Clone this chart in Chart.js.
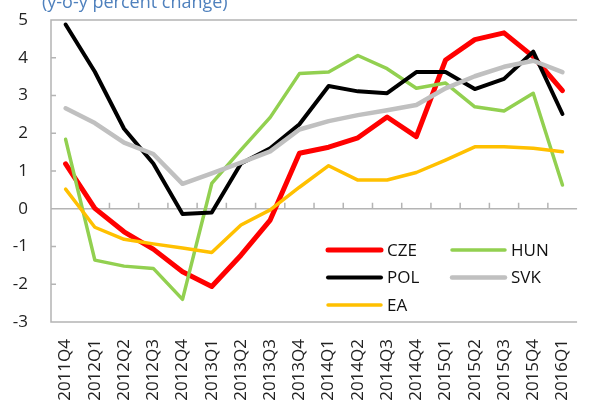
<!DOCTYPE html>
<html>
<head>
<meta charset="utf-8">
<script src="https://cdn.jsdelivr.net/npm/chart.js@4.4.0/dist/chart.umd.min.js"></script>
<style>
html, body { margin: 0; padding: 0; background: #fff; overflow: hidden; }
#wrap { width: 590px; height: 406px; overflow: hidden; position: relative; }
#wrap canvas { position: absolute; left: 0; top: 0; }
</style>
</head>
<body>
<div id="wrap"><canvas id="chart" width="600" height="406"></canvas></div>
<script>
// Datos (variación interanual, %)
const quarters = ['2011Q4', '2012Q1', '2012Q2', '2012Q3', '2012Q4', '2013Q1', '2013Q2', '2013Q3', '2013Q4',
    '2014Q1', '2014Q2', '2014Q3', '2014Q4', '2015Q1', '2015Q2', '2015Q3', '2015Q4', '2016Q1'];
const cze = [1.19, 0.01, -0.61, -1.07, -1.67, -2.06, -1.23, -0.30, 1.47, 1.63, 1.88, 2.43, 1.91, 3.94, 4.48, 4.66, 4.03, 3.13];
const hun = [1.84, -1.36, -1.52, -1.58, -2.40, 0.67, 1.56, 2.42, 3.58, 3.62, 4.06, 3.71, 3.19, 3.33, 2.70, 2.59, 3.06, 0.63];
const pol = [4.88, 3.63, 2.12, 1.20, -0.14, -0.10, 1.20, 1.60, 2.24, 3.25, 3.11, 3.06, 3.62, 3.62, 3.17, 3.44, 4.16, 2.51];
const svk = [2.66, 2.27, 1.75, 1.45, 0.66, 0.94, 1.22, 1.52, 2.10, 2.32, 2.48, 2.61, 2.75, 3.19, 3.51, 3.76, 3.92, 3.62];
const ea = [0.52, -0.49, -0.81, -0.93, -1.04, -1.16, -0.43, -0.03, 0.57, 1.14, 0.76, 0.76, 0.96, 1.29, 1.64, 1.64, 1.60, 1.51];
const yTicks = [-3, -2, -1, 0, 1, 2, 3, 4, 5];

const FONT = '"Open Sans", "Noto Sans", sans-serif';
const AXIS_COLOR = '#b4b4b4';

// Marco, línea del cero y marcas
const frame = {
    id: 'frame',
    beforeDatasetsDraw(chart) {
        const { ctx, chartArea: a, scales: { x, y } } = chart;
        ctx.save();
        ctx.strokeStyle = AXIS_COLOR;
        ctx.lineWidth = 1.5;
        ctx.beginPath();
        ctx.moveTo(a.right, a.top);
        ctx.lineTo(a.left, a.top);
        ctx.lineTo(a.left, a.bottom);
        ctx.lineTo(a.right, a.bottom);
        const y0 = y.getPixelForValue(0);
        ctx.moveTo(a.left, y0);
        ctx.lineTo(a.right, y0);
        for (let i = 1; i < quarters.length; i++) {
            const xb = (x.getPixelForValue(i - 1) + x.getPixelForValue(i)) / 2;
            ctx.moveTo(xb, y0);
            ctx.lineTo(xb, y0 - 6);
        }
        yTicks.forEach(v => {
            const yy = y.getPixelForValue(v);
            ctx.moveTo(a.left, yy);
            ctx.lineTo(a.left + 5, yy);
        });
        ctx.stroke();
        ctx.restore();
    },
    afterDraw(chart) {
        const { ctx, chartArea: a } = chart;
        ctx.save();
        // título (cortado arriba)
        ctx.font = '18px ' + FONT;
        ctx.fillStyle = '#4f81bd';
        ctx.textBaseline = 'alphabetic';
        ctx.fillText('(y-o-y percent change)', 42, 8);

        // leyenda dentro del área
        const colX = [a.left + 277, a.left + 401];
        const rowY = [250, 277.5, 305];
        ctx.font = '17px ' + FONT;
        ctx.textBaseline = 'middle';
        ctx.lineCap = 'round';
        chart.data.datasets.forEach((ds, i) => {
            const cx = colX[i % 2];
            const cy = rowY[Math.floor(i / 2)];
            ctx.strokeStyle = ds.borderColor;
            ctx.lineWidth = ds.borderWidth;
            ctx.beginPath();
            ctx.moveTo(cx, cy);
            ctx.lineTo(cx + 53, cy);
            ctx.stroke();
            ctx.fillStyle = '#111';
            ctx.fillText(ds.label, cx + 59, cy + 1);
        });
        ctx.restore();
    }
};

function serie(label, data, color, width, order) {
    return {
        label: label,
        data: data,
        borderColor: color,
        backgroundColor: color,
        borderWidth: width,
        pointRadius: 0,
        tension: 0,
        borderJoinStyle: 'round',
        borderCapStyle: 'round',
        order: order
    };
}

new Chart(document.getElementById('chart'), {
    type: 'line',
    data: {
        labels: quarters,
        datasets: [
            serie('CZE', cze, '#ff0000', 5, 5),
            serie('HUN', hun, '#92d050', 3.5, 4),
            serie('POL', pol, '#000000', 4, 3),
            serie('SVK', svk, '#c0c0c0', 4.5, 2),
            serie('EA', ea, '#ffc000', 3.5, 1)
        ]
    },
    options: {
        responsive: false,
        animation: false,
        layout: { padding: { top: 20, right: 5, left: 0, bottom: 0 } },
        plugins: { legend: { display: false }, tooltip: { enabled: false }, title: { display: false } },
        scales: {
            x: {
                offset: true,
                grid: { display: false, drawTicks: false },
                border: { display: false },
                ticks: {
                    autoSkip: false, maxRotation: 90, minRotation: 90, padding: 17,
                    color: '#222', font: { family: FONT, size: 17 }
                },
                afterFit(scale) { scale.height = 84; }
            },
            y: {
                min: -3, max: 5,
                // marcas transparentes: sólo sirven para separar las etiquetas del eje
                grid: { display: true, drawOnChartArea: false, drawTicks: true, tickLength: 21, color: 'transparent' },
                border: { display: false },
                ticks: {
                    stepSize: 1, padding: 2,
                    color: '#222', font: { family: FONT, size: 17 }
                },
                afterFit(scale) { scale.width = 51; }
            }
        }
    },
    plugins: [frame]
});
</script>
</body>
</html>
